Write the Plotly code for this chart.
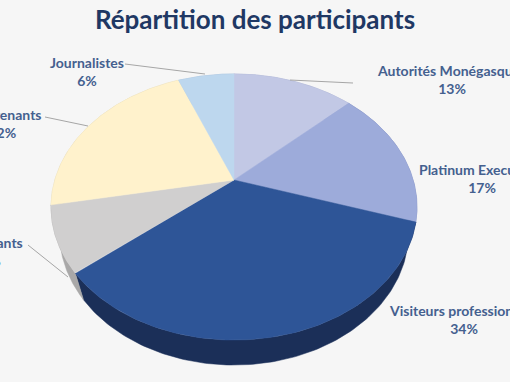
import numpy as np
import plotly.graph_objects as go

# ---------------- data ----------------
categories = ["Autorités Monégasques", "Platinum Executives", "Visiteurs professionnels",
              "Exposants", "Intervenants", "Journalistes"]
percents = [13, 17, 34, 8, 22, 6]
top_colors = ["#C2C8E5", "#9DABDA", "#2E5597", "#D0CFCF", "#FFF2CC", "#BDD7EE"]
side_colors = ["#9AA3C8", "#7483B7", "#1B2F58", "#A9A8A8", "#D9CDA9", "#9AB5D0"]
title_text = "Répartition des participants"

# ---------------- 3D pie projection ----------------
CX, CY = 234, 180
F, D, ALPHA, H = 620.2, 3.461, np.radians(45.4), 0.227
S, C = np.sin(ALPHA), np.cos(ALPHA)


def project(theta, depth=0.0):
    u = np.sin(theta)
    v = np.cos(theta)
    Y = v * S - depth * C
    Z = D + v * C + depth * S
    return CX + F * u / Z, CY - F * Y / Z


fig = go.Figure()

vals = np.array(percents, dtype=float)
bounds = np.concatenate([[0], np.cumsum(vals)]) / vals.sum() * 2 * np.pi

# side walls first
for i in range(len(vals)):
    t = np.linspace(bounds[i], bounds[i + 1], 120)
    xt, yt = project(t, 0.0)
    xb, yb = project(t[::-1], H)
    fig.add_trace(go.Scatter(
        x=np.concatenate([xt, xb, xt[:1]]), y=np.concatenate([yt, yb, yt[:1]]),
        mode="lines", fill="toself", fillcolor=side_colors[i],
        line=dict(color=side_colors[i], width=0.5), hoverinfo="skip", showlegend=False))

# top faces
for i in range(len(vals)):
    t = np.linspace(bounds[i], bounds[i + 1], 120)
    xt, yt = project(t, 0.0)
    fig.add_trace(go.Scatter(
        x=np.concatenate([[CX], xt, [CX]]), y=np.concatenate([[CY], yt, [CY]]),
        mode="lines", fill="toself", fillcolor=top_colors[i],
        line=dict(color=top_colors[i], width=0.5), hoverinfo="skip", showlegend=False))

# ---------------- labels ----------------
# (x, y, xanchor)
label_pos = [(375, 79, "left"), (417, 178, "left"), (387, 319, "left"),
             (25, 251, "right"), (44, 123, "right"), (87, 71, "center")]
label_color = "#44608F"
for name, p, (lx, ly, anc) in zip(categories, percents, label_pos):
    fig.add_annotation(x=lx, y=ly, xref="x", yref="y", text=f"<b>{name}<br>{p}%</b>",
                       showarrow=False, align="center",
                       font=dict(family="Lato", size=14, color=label_color),
                       xanchor=anc, yanchor="middle")

leaders = [((290, 80), (353, 83)), ((125, 64), (205, 74)), ((45, 117), (88, 126)),
           ((28, 245), (68, 277))]
for (x0, y0), (x1, y1) in leaders:
    fig.add_shape(type="line", x0=x0, y0=y0, x1=x1, y1=y1, xref="x", yref="y",
                  line=dict(color="#A6A6A6", width=1))

fig.update_layout(
    width=510, height=382,
    margin=dict(l=0, r=0, t=0, b=0),
    paper_bgcolor="#F6F6F6", plot_bgcolor="#F6F6F6",
    title=dict(text=f"<b>{title_text}</b>", x=0.5, xanchor="center", y=0.947, yanchor="middle",
               font=dict(family="Lato", size=26, color="#1F3864")),
    xaxis=dict(range=[0, 510], visible=False, fixedrange=True),
    yaxis=dict(range=[382, 0], visible=False, fixedrange=True),
    showlegend=False,
)

fig.write_html("out.html", config={"displayModeBar": False},
               post_script="document.body.style.margin='0';document.body.style.overflow='hidden';")
